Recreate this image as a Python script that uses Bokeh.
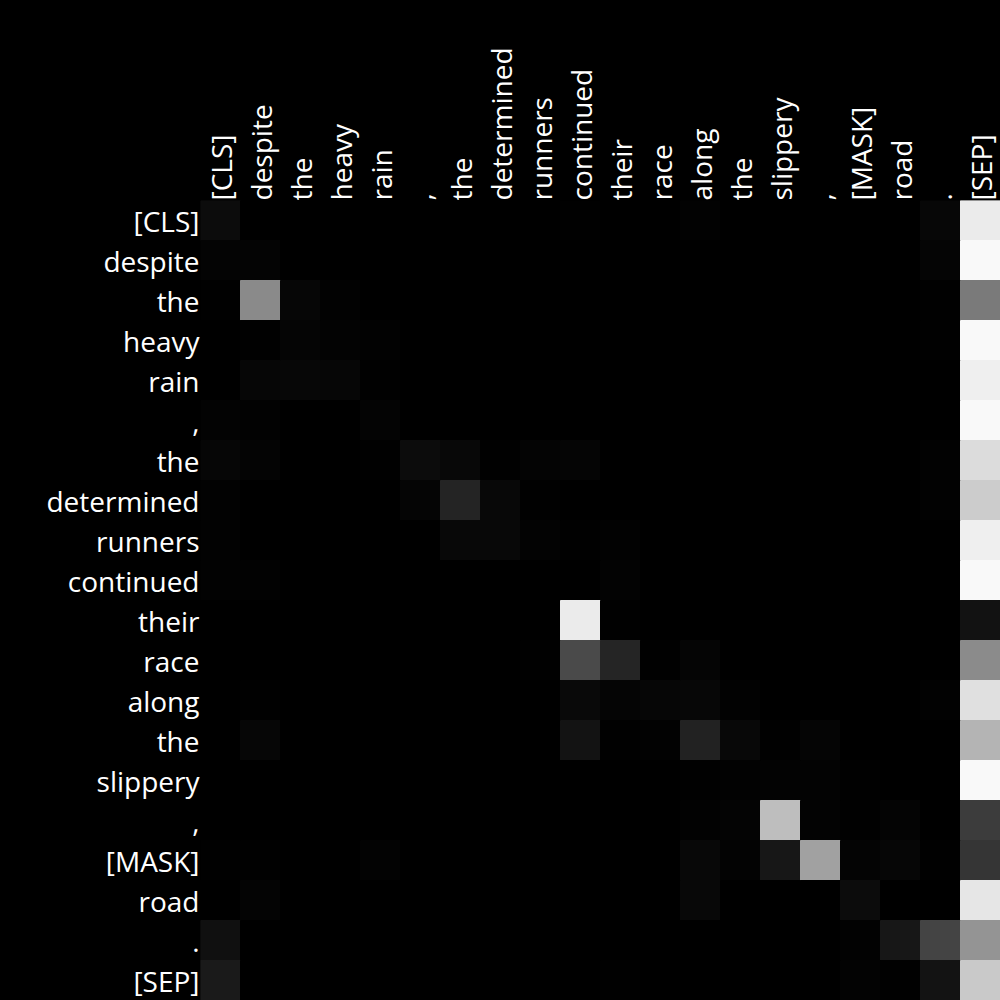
import math
from bokeh.plotting import figure
from bokeh.models import ColumnDataSource, LinearColorMapper, FixedTicker, Range1d
from bokeh.transform import transform
from bokeh.embed import file_html
from bokeh.resources import INLINE

tokens = ["[CLS]", "despite", "the", "heavy", "rain", ",", "the", "determined",
          "runners", "continued", "their", "race", "along", "the", "slippery",
          ",", "[MASK]", "road", ".", "[SEP]"]

attention = [
    [0.047, 0, 0, 0, 0, 0, 0, 0, 0, 0.004, 0, 0, 0.008, 0, 0, 0, 0, 0, 0.031, 0.918],
    [0.016, 0.016, 0, 0, 0, 0, 0, 0, 0, 0, 0, 0, 0, 0, 0, 0, 0, 0, 0.02, 0.973],
    [0.004, 0.541, 0.024, 0.008, 0, 0, 0, 0, 0, 0, 0, 0, 0, 0, 0, 0, 0, 0, 0.004, 0.478],
    [0, 0.004, 0.02, 0.012, 0.008, 0, 0, 0, 0, 0, 0, 0, 0, 0, 0, 0, 0, 0, 0.004, 0.973],
    [0, 0.024, 0.031, 0.024, 0.004, 0, 0, 0, 0, 0, 0, 0, 0, 0, 0, 0, 0, 0, 0, 0.937],
    [0.012, 0.008, 0, 0, 0.016, 0, 0, 0, 0, 0, 0, 0, 0, 0, 0, 0, 0, 0, 0, 0.973],
    [0.024, 0.016, 0, 0, 0.004, 0.047, 0.035, 0.004, 0.016, 0.02, 0, 0, 0, 0, 0, 0, 0, 0, 0.008, 0.863],
    [0.008, 0, 0, 0, 0, 0.02, 0.141, 0.035, 0.004, 0, 0, 0, 0, 0, 0, 0, 0, 0, 0.008, 0.8],
    [0.008, 0, 0, 0, 0, 0, 0.035, 0.035, 0.012, 0.004, 0.008, 0, 0, 0, 0, 0, 0, 0, 0, 0.937],
    [0.008, 0.008, 0, 0, 0, 0, 0, 0, 0, 0, 0.012, 0, 0, 0, 0, 0, 0, 0, 0, 0.973],
    [0, 0, 0, 0, 0, 0, 0, 0, 0, 0.918, 0.004, 0, 0, 0, 0, 0, 0, 0, 0, 0.071],
    [0, 0, 0, 0, 0, 0, 0, 0, 0.004, 0.29, 0.145, 0.004, 0.02, 0, 0, 0, 0, 0, 0, 0.545],
    [0, 0.004, 0, 0, 0, 0, 0, 0, 0, 0.039, 0.02, 0.024, 0.031, 0.008, 0, 0, 0, 0, 0.008, 0.878],
    [0, 0.027, 0, 0, 0, 0, 0, 0, 0, 0.078, 0.004, 0.008, 0.133, 0.035, 0.004, 0.02, 0, 0, 0, 0.706],
    [0, 0, 0, 0, 0, 0, 0, 0, 0, 0, 0, 0, 0.004, 0.008, 0.012, 0.012, 0.004, 0, 0, 0.973],
    [0, 0, 0, 0, 0, 0, 0, 0, 0, 0, 0, 0, 0.008, 0.016, 0.745, 0.012, 0.004, 0.016, 0, 0.235],
    [0.004, 0.004, 0, 0, 0.012, 0, 0, 0, 0, 0, 0, 0, 0.035, 0.012, 0.09, 0.631, 0.016, 0.024, 0.004, 0.208],
    [0, 0.016, 0, 0, 0, 0, 0, 0, 0, 0, 0, 0, 0.035, 0, 0, 0, 0.047, 0, 0, 0.902],
    [0.063, 0, 0, 0, 0, 0, 0, 0, 0, 0, 0, 0, 0, 0, 0, 0, 0.008, 0.09, 0.267, 0.58],
    [0.102, 0, 0, 0, 0, 0, 0, 0, 0, 0, 0.004, 0, 0, 0, 0, 0, 0.012, 0.004, 0.078, 0.788],
]

n = len(tokens)
xs, ys, vals = [], [], []
for r, row in enumerate(attention):
    for c, v in enumerate(row):
        xs.append(c)
        ys.append(r)
        vals.append(v)
source = ColumnDataSource(dict(x=xs, y=ys, v=vals))

palette = ["#%02x%02x%02x" % (i, i, i) for i in range(256)]
mapper = LinearColorMapper(palette=palette, low=0, high=1)

p = figure(width=1000, height=1000, output_backend="svg", toolbar_location=None,
           x_range=Range1d(-0.5, n - 0.5), y_range=Range1d(n - 0.5, -0.5),
           x_axis_location="above", min_border_left=200, min_border_top=200,
           min_border_right=0, min_border_bottom=0)
p.rect(x="x", y="y", width=1, height=1, source=source,
       fill_color=transform("v", mapper), line_color=transform("v", mapper), line_width=1)

p.background_fill_color = "black"
p.border_fill_color = "black"
p.outline_line_color = None
p.grid.visible = False

overrides = {i: t for i, t in enumerate(tokens)}
for ax in (p.xaxis[0], p.yaxis[0]):
    ax.ticker = FixedTicker(ticks=list(range(n)))
    ax.major_label_overrides = overrides
    ax.axis_line_color = None
    ax.major_tick_line_color = None
    ax.minor_tick_line_color = None
    ax.major_tick_out = 0
    ax.major_tick_in = 0
    ax.minor_tick_out = 0
    ax.minor_tick_in = 0
    ax.major_label_text_color = "white"
    ax.major_label_text_font = "Open Sans"
    ax.major_label_text_font_size = "28px"
p.yaxis[0].major_label_standoff = 1
p.xaxis[0].major_label_standoff = 0
p.xaxis[0].major_label_orientation = math.pi / 2

html = file_html(p, INLINE)
html = html.replace("<head>", "<head><style>html,body{background:#000;margin:0;}</style>", 1)
open("out.html", "w").write(html)
